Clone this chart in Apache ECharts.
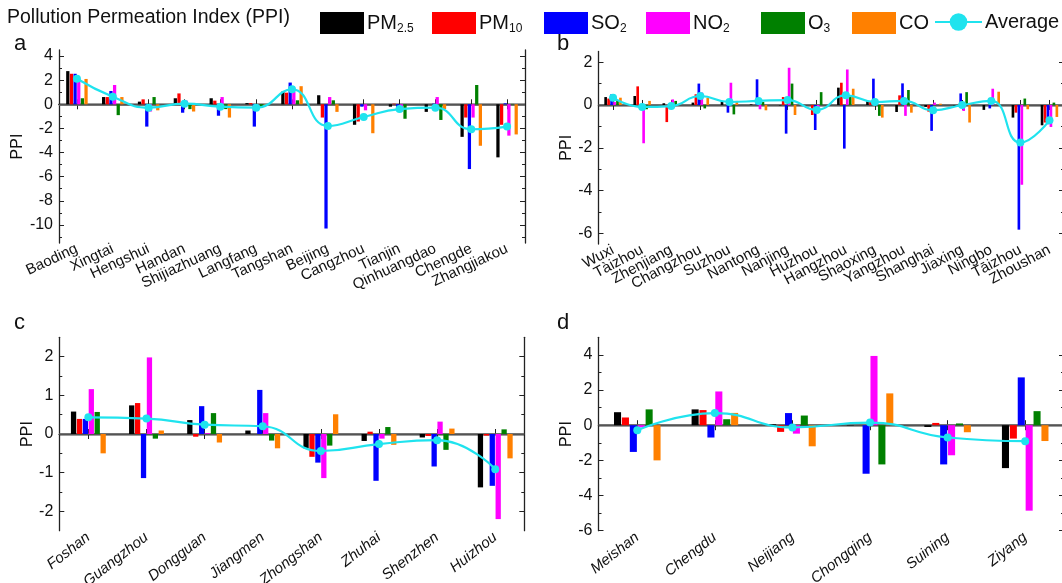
<!DOCTYPE html>
<html><head><meta charset="utf-8">
<script src="https://cdn.jsdelivr.net/npm/echarts@6/dist/echarts.min.js"></script>
<style>html,body{margin:0;padding:0;background:#fff}#c{width:1062px;height:583px}</style>
</head><body><div id="c"></div>
<script>
// ---- Panel a (Jing-Jin-Ji) ----
const catsA = ['Baoding','Xingtai','Hengshui','Handan','Shijiazhuang','Langfang','Tangshan','Beijing','Cangzhou','Tianjin','Qinhuangdao','Chengde','Zhangjiakou'];
const pm25A = [2.75,0.6,0.22,0.5,0.5,0.1,1.05,0.75,-1.7,-0.2,-0.63,-2.7,-4.4];
const pm10A = [2.53,0.6,0.41,0.9,0.3,0.1,0.96,-1.1,-1.43,0.05,0,-1.1,-1.7];
const so2A  = [2.53,1.1,-1.85,-0.7,-0.95,-1.85,1.8,-10.3,-0.2,-0.4,0.05,-5.37,0.08];
const no2A  = [2.07,1.6,-0.6,0.3,0.6,0,1.05,0.6,-0.5,-0.6,0.6,-1.1,-2.6];
const o3A   = [0.5,-0.9,0.6,-0.4,-0.4,-0.2,0.33,0.33,0,-1.2,-1.3,1.6,0.03];
const coA   = [2.1,0.6,-0.5,-0.6,-1.1,-0.05,1.5,-0.63,-2.4,0,-0.4,-3.44,-2.5];
const avgA  = [2.12,0.63,-0.28,0.05,-0.2,-0.28,1.24,-1.8,-1.05,-0.4,-0.28,-2.07,-1.85];
const majorA = [-10,-8,-6,-4,-2,0,2,4];
const minorA = [-11,-9,-7,-5,-3,-1,1,3];

// ---- Panel b (Yangtze River Delta) ----
const catsB = ['Wuxi','Tàizhou','Zhenjiang','Changzhou','Suzhou','Nantong','Nanjing','Huzhou','Hangzhou','Shaoxing','Yangzhou','Shanghai','Jiaxing','Ningbo','Tāizhou','Zhoushan'];
const pm25B = [0.37,0.42,0.08,0.11,0.14,0.03,-0.02,0,0.81,0.19,-0.33,-0.09,-0.09,-0.23,-0.59,-0.95];
const pm10B = [0.3,0.87,-0.8,0.5,0,0,0.37,-0.47,1.04,0.14,0.45,-0.31,0,0,-0.36,-0.82];
const so2B  = [0.5,0,0,1.0,-0.36,1.2,-1.34,-1.17,-2.04,1.23,1.01,-1.21,0.54,-0.16,-5.83,-0.9];
const no2B  = [0.14,-1.79,0.26,0.58,1.04,-0.2,1.74,-0.1,1.66,0,-0.51,0.11,-0.28,0.76,-3.73,-1.03];
const o3B   = [0.22,-0.2,0.19,-0.16,-0.44,0.14,1.0,0.6,0.37,-0.51,0.7,0,0.6,0,0.3,0.11];
const coB   = [0.34,0.19,0,0.34,0.19,-0.25,-0.47,0,0.76,-0.59,-0.36,0.06,-0.82,0.62,-0.2,-0.56];
const avgB  = [0.34,-0.09,-0.05,0.42,0.14,0.19,0.23,-0.23,0.45,0.14,0.19,-0.25,0,0.19,-1.76,-0.72];
const majorB = [-6,-4,-2,0,2];
const minorB = [-5,-3,-1,1];

// ---- Panel c (Pearl River Delta) ----
const catsC = ['Foshan','Guangzhou','Dongguan','Jiangmen','Zhongshan','Zhuhai','Shenzhen','Huizhou'];
const pm25C = [0.58,0.74,0.36,0.09,-0.37,-0.18,-0.09,-1.38];
const pm10C = [0.39,0.8,-0.07,0,-0.59,0.06,-0.05,-0.04];
const so2C  = [0.39,-1.14,0.72,1.14,-0.74,-1.21,-0.84,-1.34];
const no2C  = [1.16,1.98,0.02,0.54,-1.14,-0.12,0.32,-2.2];
const o3C   = [0.57,-0.12,0.54,-0.17,-0.3,0.18,-0.41,0.12];
const coC   = [-0.5,0.09,-0.22,-0.37,0.51,-0.28,0.14,-0.63];
const avgC  = [0.43,0.4,0.24,0.2,-0.44,-0.26,-0.16,-0.91];
const majorC = [-2,-1,0,1,2];
const minorC = [-1.5,-0.5,0.5,1.5];

// ---- Panel d (Chengdu-Chongqing) ----
const catsD = ['Meishan','Chengdu','Neijiang','Chongqing','Suining','Ziyang'];
const pm25D = [0.74,0.9,0.05,-0.02,-0.1,-2.44];
const pm10D = [0.44,0.86,-0.38,0,0.13,-0.76];
const so2D  = [-1.52,-0.7,0.69,-2.76,-2.23,2.72];
const no2D  = [-0.13,1.92,-0.48,3.94,-1.71,-4.86];
const o3D   = [0.9,0.34,0.55,-2.23,0.1,0.8];
const coD   = [-2.0,0.7,-1.2,1.81,-0.4,-0.9];
const avgD  = [-0.29,0.69,-0.13,0.15,-0.7,-0.91];
const majorD = [-6,-4,-2,0,2,4];
const minorD = [-5,-3,-1,1,3];

const seriesNames = ['PM2.5','PM10','SO2','NO2','O3','CO'];
const legendNames = ['PM2.5','PM10','SO2','NO2','O3','CO','Average'];
const barColors = ['#000000','#ff0000','#0000ff','#ff00ff','#008000','#ff8000'];
const avgColor = '#1fe3ee';
const FONT = '"Liberation Sans", Arial, sans-serif';
const axisCol = '#222';

const panels = [
  {cats:catsA, vals:[pm25A,pm10A,so2A,no2A,o3A,coA], avg:avgA, min:-11.5, max:4.5, major:majorA, minor:minorA,
   grid:{left:59, top:50, width:466, height:193}, rotate:25, italic:false},
  {cats:catsB, vals:[pm25B,pm10B,so2B,no2B,o3B,coB], avg:avgB, min:-6.5, max:2.5, major:majorB, minor:minorB,
   grid:{left:598.5, top:51.5, width:465.5, height:192.5}, rotate:28, italic:false},
  {cats:catsC, vals:[pm25C,pm10C,so2C,no2C,o3C,coC], avg:avgC, min:-2.5, max:2.5, major:majorC, minor:minorC,
   grid:{left:59.3, top:337.3, width:465, height:193.4}, rotate:38, italic:true},
  {cats:catsD, vals:[pm25D,pm10D,so2D,no2D,o3D,coD], avg:avgD, min:-6, max:5, major:majorD, minor:minorD,
   grid:{left:598.5, top:337.3, width:465.5, height:193.4}, rotate:38, italic:true}
];

const grids = [], xAxes = [], yAxes = [], series = [];
panels.forEach((p, i) => {
  grids.push(Object.assign({outerBoundsMode:'none', containLabel:false}, p.grid));
  const line = {show:true, lineStyle:{color:axisCol, width:1.3}};
  xAxes.push({gridIndex:i, type:'category', data:p.cats, position:'bottom', boundaryGap:true,
    axisLine:line, axisTick:{show:true, inside:true, alignWithLabel:true, length:5, lineStyle:{color:axisCol}},
    axisLabel:{rotate:p.rotate, interval:0, margin:5, fontSize:15, color:'#111', fontFamily:FONT,
      fontStyle:p.italic?'italic':'normal'},
    splitLine:{show:false}});
  xAxes.push({gridIndex:i, type:'category', data:p.cats, position:'top', boundaryGap:true,
    axisLine:line, axisTick:{show:true, inside:true, alignWithLabel:true, length:5, lineStyle:{color:axisCol}},
    axisLabel:{show:false}, splitLine:{show:false}});
  const yBase = {gridIndex:i, type:'value', min:p.min, max:p.max, splitLine:{show:false}};
  yAxes.push(Object.assign({}, yBase, {position:'left', axisLine:line,
    name:'PPI', nameLocation:'middle', nameGap:23, nameRotate:90,
    nameTextStyle:{fontSize:16, color:'#111', fontFamily:FONT},
    axisTick:{show:true, inside:true, length:5, customValues:p.major, lineStyle:{color:axisCol}},
    axisLabel:{show:true, customValues:p.major, fontSize:16, color:'#111', margin:6, fontFamily:FONT}}));
  yAxes.push(Object.assign({}, yBase, {position:'left', axisLine:{show:false},
    axisTick:{show:true, inside:true, length:3, customValues:p.minor, lineStyle:{color:axisCol}},
    axisLabel:{show:false}}));
  yAxes.push(Object.assign({}, yBase, {position:'right', axisLine:line,
    axisTick:{show:true, inside:true, length:5, customValues:p.major, lineStyle:{color:axisCol}},
    axisLabel:{show:false}}));
  yAxes.push(Object.assign({}, yBase, {position:'right', axisLine:{show:false},
    axisTick:{show:true, inside:true, length:3, customValues:p.minor, lineStyle:{color:axisCol}},
    axisLabel:{show:false}}));
  p.vals.forEach((v, k) => {
    const s = {name:seriesNames[k], type:'bar', xAxisIndex:2*i, yAxisIndex:4*i, data:v,
      barGap:'12%', barCategoryGap:'40%', itemStyle:{color:barColors[k]}, z:2, silent:true};
    if (k === 0) s.markLine = {silent:true, symbol:'none', label:{show:false},
      lineStyle:{color:'#666', width:1.6, type:'solid'}, data:[{yAxis:0}], z:1};
    series.push(s);
  });
  series.push({name:'Average', type:'line', xAxisIndex:2*i, yAxisIndex:4*i, data:p.avg,
    smooth:0.5, symbol:'circle', symbolSize:8, showSymbol:true,
    lineStyle:{color:avgColor, width:2.2}, itemStyle:{color:avgColor}, z:5, silent:true});
});

const subMap = {'PM2.5':['PM','2.5'],'PM10':['PM','10'],'SO2':['SO','2'],'NO2':['NO','2'],'O3':['O','3'],'CO':['CO',''],'Average':['Average','']};
const legendLeft = [315,427,539,641,756,847,929];
const legends = legendNames.map((n, i) => ({
  left:legendLeft[i], top:7, orient:'horizontal', itemWidth:(n==='Average'?47:44), itemHeight:22, itemGap:0,
  selectedMode:false, data:[n.length && n!=='Average' ? {name:n, icon:'rect'} : n],
  formatter:function(nm){const t=subMap[nm]; return t[1]?('{m|'+t[0]+'}{s|'+t[1]+'}'):('{m|'+t[0]+'}');},
  textStyle:{color:'#111', fontFamily:FONT, padding:[0,0,0,-2],
    rich:{m:{fontSize:20, fontFamily:FONT, color:'#111', lineHeight:24},
          s:{fontSize:12, fontFamily:FONT, color:'#111', lineHeight:12, verticalAlign:'bottom'}}}
}));

const option = {
  animation:false,
  backgroundColor:'#fff',
  grid:grids, xAxis:xAxes, yAxis:yAxes, series:series,
  legend:legends,
  graphic:[
    {type:'text', left:7, top:8, style:{text:'Pollution Permeation Index (PPI)', fontSize:19.5, fontFamily:FONT, fill:'#111'}},
    {type:'text', left:14, top:33, style:{text:'a', fontSize:22, fontFamily:FONT, fill:'#111'}},
    {type:'text', left:557, top:33, style:{text:'b', fontSize:22, fontFamily:FONT, fill:'#111'}},
    {type:'text', left:14, top:312, style:{text:'c', fontSize:22, fontFamily:FONT, fill:'#111'}},
    {type:'text', left:557, top:312, style:{text:'d', fontSize:22, fontFamily:FONT, fill:'#111'}}
  ]
};
const chart = echarts.init(document.getElementById('c'), null, {renderer:'canvas'});
chart.setOption(option);
</script></body></html>
